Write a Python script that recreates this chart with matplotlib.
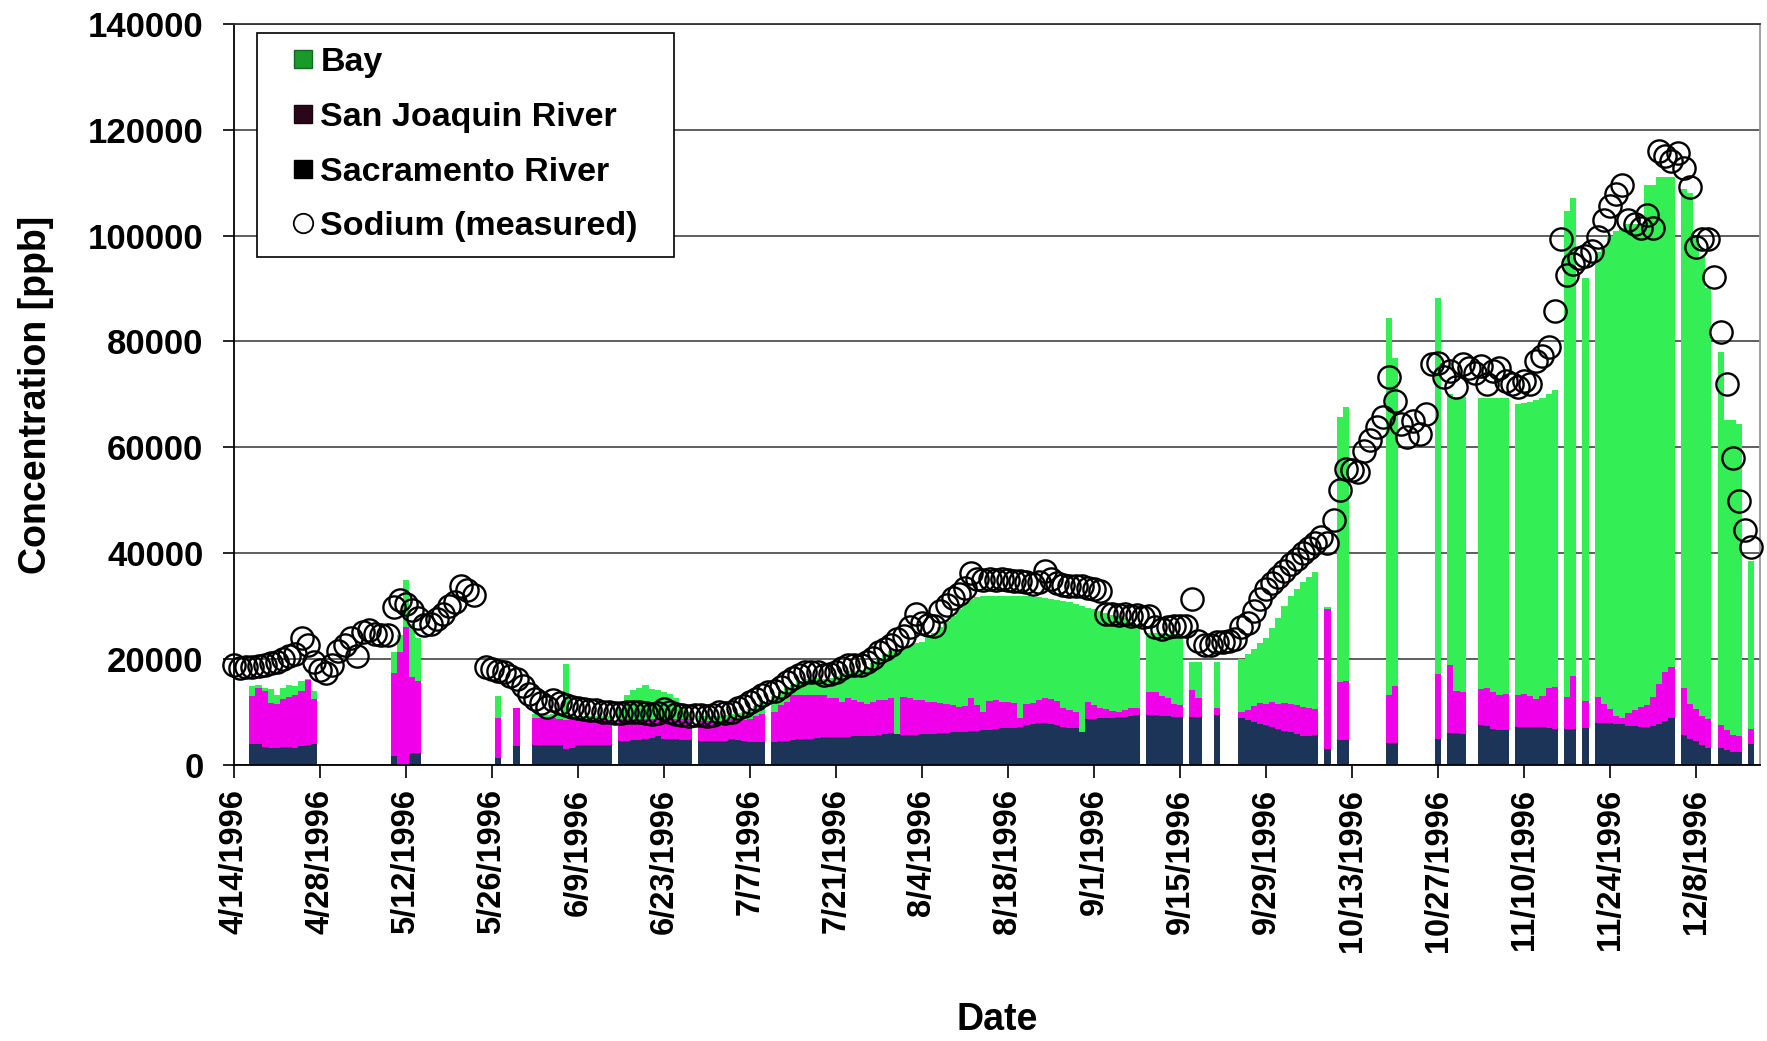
import numpy as np
import matplotlib
matplotlib.use("Agg")
import matplotlib.pyplot as plt
import matplotlib.dates as mdates
from matplotlib.lines import Line2D

n = np.nan

# one value per day, starting 4/14/1996 (each line = two weeks)
sacramento = [
    n, n, n, 3900, 3900, 3400, 3200, 3300, 3400, 3400, 3300, 3600, 3800, 3900,
    n, n, n, n, n, n, n, n, n, n, n, n, 1700, 0,
    0, 2200, 2200, n, n, n, n, n, n, n, n, n, n, n,
    n, 1400, n, n, 3500, n, n, 3800, 3800, 3700, 3800, 3800, 3100, 3200,
    3700, 3700, 3800, 3800, 3700, 3800, n, 4500, 4600, 4700, 4800, 4900, 5100, 5400,
    5000, 4900, 4900, 4800, 4800, n, 4600, 4600, 4500, 4500, 4600, 5000, 4800, 4500,
    4400, 4400, 4400, n, 4400, 4500, 4600, 4750, 5000, 5000, 5000, 5100, 5200, 5200,
    5200, 5300, 5300, 5400, 5400, 5500, 5500, 5700, 5800, 6000, 5900, 5600, 5700, 5700,
    5800, 5900, 5900, 6000, 6100, 6200, 6200, 6300, 6400, 6500, 6600, 6700, 6800, 6900,
    6900, 7000, 7200, 7500, 7700, 7900, 7900, 7700, 7500, 7200, 7000, 6900, 6300, 8600,
    8700, 8800, 8800, 8900, 9000, 9100, 9300, 9400, n, 9400, 9400, 9300, 9200, 9100,
    9100, n, 9100, 9000, n, n, 9400, n, n, n, 8800, 8500, 8100, 7800,
    7600, 7200, 6800, 6400, 6200, 5800, 5500, 5500, 5700, n, 3000, n, 4700, 4800,
    n, n, n, n, n, n, 4100, 4100, n, n, n, n, n, n,
    5000, n, 6000, 6000, 5800, n, n, 7500, 7300, 6800, 6600, 6600, n, 7200,
    7200, 7100, 7200, 7200, 7000, 6800, n, 6800, 6800, n, 7000, n, 8000, 8000,
    7900, 7800, 7700, 7400, 7300, 7200, 7200, 7300, 7800, 8300, 8900, n, 5600, 5000,
    4500, 3800, 3300, n, 3300, 2800, 2500, 2400, n, 4000,
]

san_joaquin = [
    n, n, n, 9100, 10700, 10600, 8500, 8200, 9000, 9400, 10000, 10300, 12200, 8600,
    n, n, n, n, n, n, n, n, n, n, n, n, 15700, 21400,
    26000, 14500, 13600, n, n, n, n, n, n, n, n, n, n, n,
    n, 7500, n, n, 7200, n, n, 5000, 5100, 5000, 5000, 4900, 5400, 5300,
    4800, 4800, 4700, 4700, 4800, 4700, n, 4200, 4100, 4000, 3900, 3800, 3600, 3300,
    3700, 3800, 3800, 3800, 3800, n, 3700, 3700, 3800, 3800, 3800, 3600, 3800, 4000,
    4300, 4800, 5300, n, 5600, 6800, 7300, 8450, 8200, 8200, 8200, 8100, 8000, 7400,
    7400, 6600, 7300, 6850, 6500, 6100, 6400, 6500, 6400, 6600, 0, 7300, 7000, 6600,
    6400, 6000, 6000, 5700, 5500, 5200, 4800, 4900, 6200, 4800, 3400, 5300, 5400, 5000,
    5000, 4800, 1600, 4100, 4100, 4300, 4700, 4700, 4500, 3600, 3300, 3100, 0, 3300,
    2700, 1900, 1700, 1300, 1000, 1200, 1400, 1300, n, 4400, 4400, 3700, 3400, 2400,
    2200, n, 5000, 3600, n, n, 1300, n, n, n, 1200, 1800, 3100, 4000,
    3900, 4700, 4800, 5300, 5300, 5500, 5500, 5200, 4800, n, 26500, n, 11000, 11000,
    n, n, n, n, n, n, 9100, 10900, n, n, n, n, n, n,
    12200, n, 12800, 8000, 8000, n, n, 6800, 7200, 7000, 6600, 6900, n, 6000,
    6200, 5900, 5300, 5800, 7500, 8000, n, 6100, 10100, n, 5000, n, 4900, 3500,
    2600, 1500, 1200, 2500, 3000, 3800, 4100, 5600, 7500, 9200, 9600, n, 8900, 6500,
    6000, 5500, 5300, n, 4300, 3800, 3100, 3000, n, 2800,
]

bay = [
    n, n, n, 1900, 600, 500, 2600, 1800, 2200, 2400, 1700, 1900, 200, 1500,
    n, n, n, n, n, n, n, n, n, n, n, n, 4000, 3200,
    9000, 10000, 8200, n, n, n, n, n, n, n, n, n, n, n,
    n, 4100, n, n, 0, n, n, 800, 700, 800, 900, 800, 10600, 900,
    700, 800, 800, 700, 700, 800, n, 1800, 4500, 5400, 5800, 6500, 5700, 5500,
    5100, 4800, 4000, 2400, 1500, n, 900, 900, 900, 1000, 1000, 1100, 1200, 1500,
    1800, 2000, 2300, n, 3000, 2500, 2600, 2000, 2600, 3000, 3200, 3300, 3100, 3900,
    4200, 5400, 5100, 5550, 6100, 6800, 7300, 7800, 8600, 8900, 16100, 9100, 9800, 10700,
    11100, 12100, 13100, 14300, 15600, 16800, 18500, 19400, 18700, 20500, 22000, 20000, 19800, 20100,
    20100, 20200, 23200, 20300, 20000, 19500, 18900, 18900, 19200, 20200, 20400, 20400, 23700, 17800,
    18000, 18300, 18200, 18200, 18200, 17400, 16300, 15600, n, 11200, 11100, 11900, 12200, 13200,
    13100, n, 5300, 6800, n, n, 8700, n, n, n, 10000, 10700, 10800, 11200,
    12500, 13900, 16200, 18300, 20500, 22000, 23500, 24800, 26000, n, 400, n, 50000, 51800,
    n, n, n, n, n, n, 71200, 61900, n, n, n, n, n, n,
    71000, n, 51200, 55500, 55700, n, n, 55100, 54900, 55600, 56200, 55900, n, 55000,
    55000, 55600, 56500, 56400, 55500, 56000, n, 91700, 90100, n, 80000, n, 84000, 86500,
    89500, 91500, 92500, 92200, 91900, 91200, 98200, 96600, 95800, 93600, 92600, n, 94200, 96500,
    89500, 86700, 81400, n, 70400, 58600, 59600, 59000, n, 31800,
]

sodium = [
    18900, 18300, 18500, 18600, 18700, 18800, 19200, 19500, 20000, 20500, 21000, 24000, 22700, 19500,
    18000, 17400, 18900, 21500, 22700, 24000, 20500, 25200, 25500, 24800, 24600, 24600, 29900, 31200,
    30500, 29250, 27700, 26400, 26700, 27500, 28600, 30000, 30800, 33900, 33000, 32200, n, 18600,
    18200, 17800, 17500, 16800, 16300, 15000, 13500, 12500, 11800, 11000, 12300, 11800, 11300, 10900,
    10700, 10500, 10400, 10300, 10100, 10000, 9800, 9900, 10000, 10100, 10000, 9800, 9700, 9800,
    10600, 10000, 9600, 9400, 9300, 9400, 9400, 9300, 9500, 10000, 9900, 10100, 10700, 11200,
    11900, 12400, 13200, 13800, 14000, 14800, 15700, 16400, 17000, 17600, 17600, 17600, 17000, 17200,
    17600, 18400, 18800, 18800, 18900, 19400, 20300, 21300, 22000, 22600, 23800, 24400, 26000, 28500,
    26800, 26500, 26300, 29000, 30200, 31500, 32300, 33500, 36300, 35100, 35000, 35100, 35000, 35100,
    35000, 34800, 34700, 34500, 34100, 34500, 36600, 35100, 34300, 34000, 33800, 33800, 33800, 33500,
    33300, 32900, 28500, 28500, 28400, 28500, 28200, 28400, 28000, 28200, 26000, 25700, 26000, 26300,
    26300, 26300, 31300, 23500, 22600, 22600, 23200, 23300, 23500, 23800, 26000, 26900, 29100, 31300,
    33200, 34400, 35500, 36600, 38000, 39000, 40000, 41000, 42000, 43000, 42000, 46300, 52000, 56000,
    55700, 55400, 59400, 61300, 63800, 65700, 73200, 68800, 64400, 61900, 65000, 62500, 66300, 75700,
    76000, 73200, 74400, 71300, 75700, 75000, 74000, 75400, 71900, 74400, 75000, 72600, 72000, 71300,
    72500, 71900, 76300, 77300, 78900, 85700, 99400, 92600, 94600, 95800, 96200, 97000, 99800, 103000,
    105500, 107900, 109500, 103000, 102200, 101400, 103800, 101400, 115900, 115100, 114000, 115500, 112700, 109100,
    97800, 99400, 99400, 92200, 81700, 72000, 58000, 49900, 44300, 41100,
]

tick_labels = ['4/14/1996', '4/28/1996', '5/12/1996', '5/26/1996', '6/9/1996',
               '6/23/1996', '7/7/1996', '7/21/1996', '8/4/1996', '8/18/1996',
               '9/1/1996', '9/15/1996', '9/29/1996', '10/13/1996', '10/27/1996',
               '11/10/1996', '11/24/1996', '12/8/1996']

plt.rcParams['font.family'] = ['Liberation Sans', 'DejaVu Sans']
plt.rcParams['font.weight'] = 'bold'

sac = np.array(sacramento, dtype=float)
sj = np.array(san_joaquin, dtype=float)
by = np.array(bay, dtype=float)
na = np.array(sodium, dtype=float)

dates = np.datetime64('1996-04-14') + np.arange(len(sac))
x = mdates.date2num(dates)

navy = '#1b3458'
magenta = '#f000ea'
green = '#33ee55'

fig = plt.figure(figsize=(17.67, 10.41), dpi=100)
ax = fig.add_axes([0.1324, 0.2651, 0.8636, 0.7121])

ok = ~np.isnan(sac)
ax.bar(x[ok], sac[ok], width=1.0, color=navy, linewidth=0, zorder=2)
ax.bar(x[ok], sj[ok], width=1.0, bottom=sac[ok], color=magenta, linewidth=0, zorder=2)
ax.bar(x[ok], by[ok], width=1.0, bottom=sac[ok] + sj[ok], color=green, linewidth=0, zorder=2)

ax.plot(x, na, linestyle='none', marker='o', markersize=16, markerfacecolor='none',
        markeredgecolor='black', markeredgewidth=1.7, zorder=4, clip_on=False)

ax.set_ylim(0, 140000)
ax.set_yticks(np.arange(0, 140001, 20000))
ax.set_yticklabels([str(v) for v in range(0, 140001, 20000)])
ax.yaxis.grid(True, color='#333333', linewidth=1.1, zorder=0)
ax.set_axisbelow(True)

ax.set_xlim(x[0], x[0] + 248.4)
ax.set_xticks(x[::14])
ax.set_xticklabels(tick_labels, rotation=90)

ax.tick_params(axis='y', labelsize=25, length=8, width=1.2, pad=14)
ax.tick_params(axis='x', labelsize=23.5, length=9, width=1.2, pad=8)

for lab in ax.get_xticklabels() + ax.get_yticklabels():
    lab.set_fontweight('bold')

ax.spines['left'].set_color('black')
ax.spines['left'].set_linewidth(1.3)
ax.spines['bottom'].set_color('black')
ax.spines['bottom'].set_linewidth(1.3)
ax.spines['top'].set_color('#333333')
ax.spines['top'].set_linewidth(1.3)
ax.spines['right'].set_color('#999999')
ax.spines['right'].set_linewidth(1.3)

ax.set_ylabel('Concentration [ppb]', fontsize=27, fontweight='bold', labelpad=24)
ax.set_xlabel('Date', fontsize=27, fontweight='bold', labelpad=36)

handles = [
    Line2D([], [], linestyle='none', marker='s', markersize=13,
           markerfacecolor='#1a9a2a', markeredgecolor='#0f6a1a'),
    Line2D([], [], linestyle='none', marker='s', markersize=13,
           markerfacecolor='#2a0718', markeredgecolor='#1a0010'),
    Line2D([], [], linestyle='none', marker='s', markersize=13,
           markerfacecolor='black', markeredgecolor='black'),
    Line2D([], [], linestyle='none', marker='o', markersize=14,
           markerfacecolor='none', markeredgecolor='black', markeredgewidth=1.3),
]
labels = ['Bay', 'San Joaquin River', 'Sacramento River', 'Sodium (measured)']
leg = ax.legend(handles, labels, loc='upper left',
                bbox_to_anchor=(0.015, 0.988, 0.2735, 0.0), mode='expand',
                fontsize=24.5, frameon=True, fancybox=False, framealpha=1,
                edgecolor='black', handlelength=1.9, handletextpad=-0.45,
                labelspacing=0.7, borderpad=0.42, borderaxespad=0)
leg.get_frame().set_linewidth(1.2)
for t in leg.get_texts():
    t.set_fontweight('bold')

fig.savefig('out.png', dpi=100)
